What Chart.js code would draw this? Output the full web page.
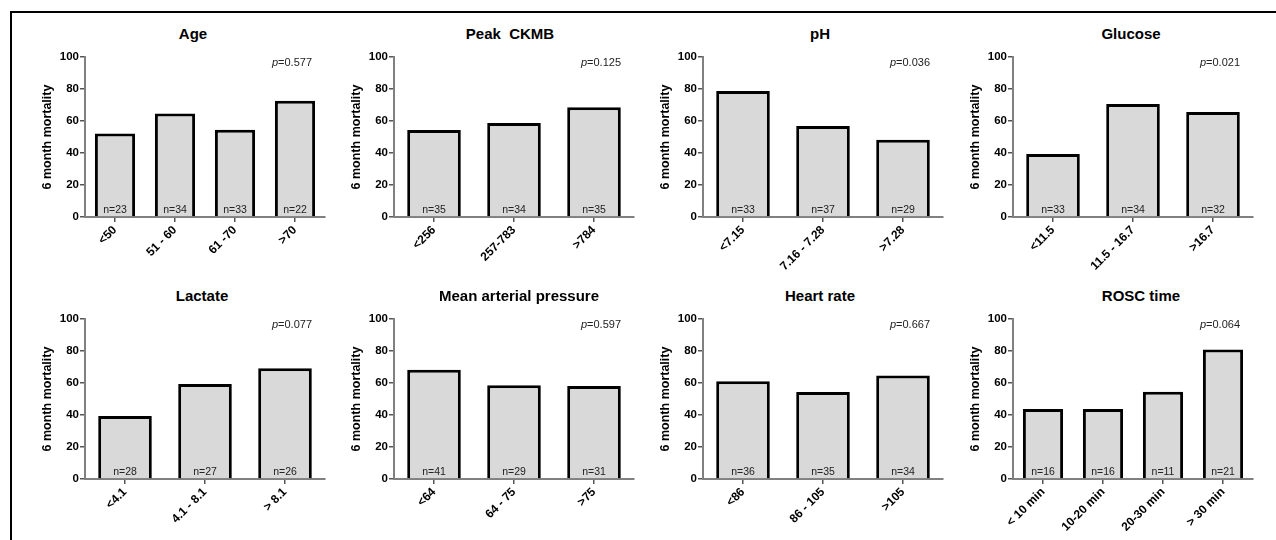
<!DOCTYPE html>
<html>
<head>
<meta charset="utf-8">
<script src="https://cdn.jsdelivr.net/npm/chart.js@4"></script>
<style>
  body { margin: 0; background: #fff; width: 1276px; height: 540px; overflow: hidden; position: relative; font-family: 'Liberation Sans', Arial, sans-serif; }
  .frame { position: absolute; left: 10px; top: 11px; width: 1300px; height: 600px; border-left: 2px solid #000; border-top: 2px solid #000; }
  .panel { position: absolute; }
  .ptitle { position: absolute; width: 240px; text-align: center; font-weight: bold; font-size: 15px; line-height: 18px; color: #000; white-space: pre; }
</style>
</head>
<body>
<div class="frame"></div>
<div id="root"></div>
<script>
// ---- data ----
const ageLabels = ['<50', '51 - 60', '61 -70', '>70'];
const ageValues = [52.2, 64.7, 54.5, 72.7];
const ageN = [23, 34, 33, 22];

const ckmbLabels = ['<256', '257-783', '>784'];
const ckmbValues = [54.3, 58.8, 68.6];
const ckmbN = [35, 34, 35];

const phLabels = ['<7.15', '7.16 - 7.28', '>7.28'];
const phValues = [78.8, 56.8, 48.3];
const phN = [33, 37, 29];

const glucoseLabels = ['<11.5', '11.5 - 16.7', '>16.7'];
const glucoseValues = [39.4, 70.6, 65.6];
const glucoseN = [33, 34, 32];

const lactateLabels = ['<4.1', '4.1 - 8.1', '> 8.1'];
const lactateValues = [39.3, 59.3, 69.2];
const lactateN = [28, 27, 26];

const mapLabels = ['<64', '64 - 75', '>75'];
const mapValues = [68.3, 58.6, 58.1];
const mapN = [41, 29, 31];

const hrLabels = ['<86', '86 - 105', '>105'];
const hrValues = [61.1, 54.3, 64.7];
const hrN = [36, 35, 34];

const roscLabels = ['< 10 min', '10-20 min', '20-30 min', '> 30 min'];
const roscValues = [43.8, 43.8, 54.5, 81.0];
const roscN = [16, 16, 11, 21];

const panelTitles = ['Age', 'Peak  CKMB', 'pH', 'Glucose', 'Lactate', 'Mean arterial pressure', 'Heart rate', 'ROSC time'];
const panelP = ['0.577', '0.125', '0.036', '0.021', '0.077', '0.597', '0.667', '0.064'];
const yTicks = [0, 20, 40, 60, 80, 100];
const yAxisTitle = '6 month mortality';

// ---- layout ----
const FONT = "'Liberation Sans', Arial, sans-serif";
const axisLeft = [85, 394, 703, 1013];
const rowTop = [57, 319];   // y of the 100 line
const titleShift = [-12, -4, -3, -2, -3, 5, -3, 8];
const Y_W = 60, PAD_T = 10, X_H = 60, PLOT_W = 240, PLOT_H = 160;
const CW = Y_W + PLOT_W + 10, CH = PAD_T + PLOT_H + X_H;

const panels = [
  [ageLabels, ageValues, ageN],
  [ckmbLabels, ckmbValues, ckmbN],
  [phLabels, phValues, phN],
  [glucoseLabels, glucoseValues, glucoseN],
  [lactateLabels, lactateValues, lactateN],
  [mapLabels, mapValues, mapN],
  [hrLabels, hrValues, hrN],
  [roscLabels, roscValues, roscN]
];

// n= labels inside bars and the p value
const annotate = {
  id: 'annotate',
  afterDatasetsDraw(chart, args, opts) {
    const ctx = chart.ctx;
    const area = chart.chartArea;
    const meta = chart.getDatasetMeta(0);
    ctx.save();
    ctx.fillStyle = '#222';
    ctx.font = '10.5px ' + FONT;
    ctx.textAlign = 'center';
    ctx.textBaseline = 'middle';
    const y0 = chart.scales.y.getPixelForValue(0);
    meta.data.forEach((bar, i) => {
      ctx.fillText('n=' + opts.n[i], bar.x, y0 - 7);
    });
    // p value, italic p
    ctx.textAlign = 'left';
    ctx.font = '11px ' + FONT;
    const rest = '=' + opts.p;
    const wRest = ctx.measureText(rest).width;
    ctx.font = 'italic 11px ' + FONT;
    const wP = ctx.measureText('p').width;
    const xEnd = area.right - 13;
    const yP = area.top + 6;
    ctx.fillText('p', xEnd - wRest - wP, yP);
    ctx.font = '11px ' + FONT;
    ctx.fillText(rest, xEnd - wRest, yP);
    ctx.restore();
  }
};

const root = document.getElementById('root');

panels.forEach((p, idx) => {
  const col = idx % 4, row = Math.floor(idx / 4);
  const left = axisLeft[col] - Y_W;
  const top = rowTop[row] - PAD_T;

  const title = document.createElement('div');
  title.className = 'ptitle';
  title.style.left = (axisLeft[col] + titleShift[idx]) + 'px';
  title.style.top = (rowTop[row] - 32) + 'px';
  title.textContent = panelTitles[idx];
  root.appendChild(title);

  const wrap = document.createElement('div');
  wrap.className = 'panel';
  wrap.style.left = left + 'px';
  wrap.style.top = top + 'px';
  const canvas = document.createElement('canvas');
  canvas.width = CW;
  canvas.height = CH;
  canvas.style.width = CW + 'px';
  canvas.style.height = CH + 'px';
  wrap.appendChild(canvas);
  root.appendChild(wrap);

  new Chart(canvas, {
    type: 'bar',
    data: {
      labels: p[0],
      datasets: [{
        data: p[1],
        backgroundColor: '#d9d9d9',
        borderColor: '#000',
        borderWidth: 3,
        borderSkipped: 'start',
        barPercentage: 0.67,
        categoryPercentage: 1
      }]
    },
    options: {
      responsive: false,
      animation: false,
      layout: { padding: { top: PAD_T, right: 10, left: 0, bottom: 0 } },
      plugins: {
        legend: { display: false },
        tooltip: { enabled: false },
        annotate: { n: p[2], p: panelP[idx] }
      },
      scales: {
        x: {
          z: 1,
          offset: true,
          grid: { display: true, drawOnChartArea: false, drawTicks: true, tickLength: 5, color: '#555', lineWidth: 1.5, offset: false },
          border: { display: true, color: '#808080', width: 2 },
          ticks: {
            color: '#000', minRotation: 45, maxRotation: 45, padding: 1,
            font: { family: FONT, size: 12, weight: 'bold' }
          },
          afterFit(scale) { scale.height = X_H; }
        },
        y: {
          z: 1,
          min: 0, max: 100,
          afterBuildTicks(scale) { scale.ticks = yTicks.map(v => ({ value: v })); },
          grid: { display: true, drawOnChartArea: false, drawTicks: true, tickLength: 5, color: '#555', lineWidth: 1.5 },
          border: { display: true, color: '#808080', width: 2 },
          ticks: {
            color: '#000', padding: 1,
            font: { family: FONT, size: 11.5, weight: 'bold' }
          },
          title: {
            display: true, text: yAxisTitle, color: '#000',
            font: { family: FONT, size: 12.5, weight: 'bold' },
            padding: { top: 15, bottom: 0 }
          },
          afterFit(scale) { scale.width = Y_W; }
        }
      }
    },
    plugins: [annotate]
  });
});
</script>
</body>
</html>
